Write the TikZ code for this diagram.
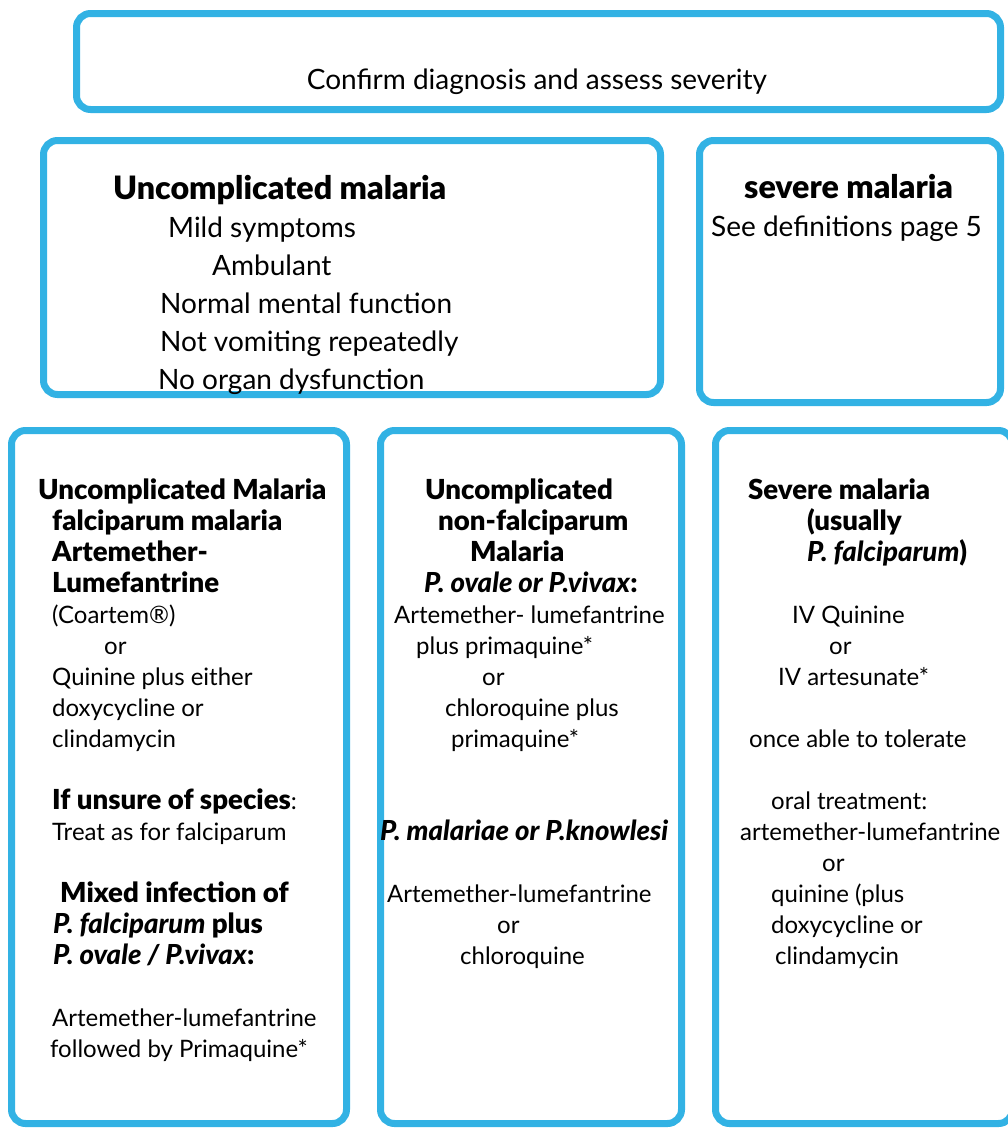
\documentclass[tikz,border=0pt]{standalone}
\usepackage{fontspec}
\setmainfont{Lato}[BoldFont={Lato Black}, BoldItalicFont={Lato Black Italic},
  BoldFeatures={Scale=1.15}, BoldItalicFeatures={Scale=1.15}]
\usetikzlibrary{positioning}
\definecolor{mlblue}{RGB}{50,178,228}
\tikzset{
  panel/.style={rectangle, draw=mlblue, line width=7pt, rounded corners=14pt,
    inner sep=0pt, anchor=north west},
  bigtxt/.style={font=\fontsize{28pt}{38pt}\selectfont, align=left,
    inner sep=0pt, anchor=base west},
  smalltxt/.style={font=\fontsize{24pt}{31pt}\selectfont, align=left,
    inner sep=0pt, anchor=base west}
}
\begin{document}
\begin{tikzpicture}[x=1pt, y=-1pt]
  \useasboundingbox (0,0) rectangle (1008,1128);

  % Panels
  \node[panel, minimum width=924pt, minimum height=96pt] (diag) at (73,10) {};
  \node[panel, minimum width=617pt, minimum height=254pt] (uncomp) at (40,137) {};
  \node[panel, minimum width=301pt, minimum height=262pt] (severe) at (696,137) {};
  \node[panel, minimum width=335pt, minimum height=693pt] (falc) at (8,427) {};
  \node[panel, minimum width=301pt, minimum height=693pt] (nonfalc) at (377,427) {};
  \node[panel, minimum width=297pt, minimum height=693pt] (sevtreat) at (712,427) {};

  % Top row
  \node[font=\fontsize{28pt}{38pt}\selectfont, inner sep=0pt, anchor=base] (diagtx) at (537,89)
    {Confirm diagnosis and assess severity};

  % Second row (base = last line)
  \node[bigtxt] (uncomptx) at (113,389) {%
    \textbf{Uncomplicated malaria}\\
    \hspace*{55pt}Mild symptoms\\
    \hspace*{99pt}Ambulant\\
    \hspace*{47pt}Normal mental function\\
    \hspace*{47pt}Not vomiting repeatedly\\
    \hspace*{45pt}No organ dysfunction};
  \node[bigtxt] (severetx) at (711,236) {%
    \hspace*{33pt}\textbf{severe malaria}\\
    See definitions page 5};

  % Treatment row (base = last line)
  \node[smalltxt] (falctx) at (38,1057) {%
    \textbf{Uncomplicated Malaria}\\
    \hspace*{14pt}\textbf{falciparum malaria}\\
    \hspace*{14pt}\textbf{Artemether-}\\
    \hspace*{14pt}\textbf{Lumefantrine}\\
    \hspace*{14pt}(Coartem®)\\
    \hspace*{66pt}or\\
    \hspace*{14pt}Quinine plus either\\
    \hspace*{14pt}doxycycline or\\
    \hspace*{14pt}clindamycin\\[31pt]
    \hspace*{14pt}\textbf{If unsure of species}:\\
    \hspace*{14pt}Treat as for falciparum\\[31pt]
    \hspace*{22pt}\textbf{Mixed infection of}\\
    \hspace*{15pt}\textbf{\textit{P. falciparum} plus}\\
    \hspace*{15pt}\textbf{\textit{P. ovale / P.vivax}:}\\[31pt]
    \hspace*{14pt}Artemether-lumefantrine\\
    \hspace*{12pt}followed by Primaquine*};
  \node[smalltxt] (nonfalctx) at (380,964) {%
    \hspace*{45pt}\textbf{Uncomplicated}\\
    \hspace*{58pt}\textbf{non-falciparum}\\
    \hspace*{90pt}\textbf{Malaria}\\
    \hspace*{44pt}\textbf{\textit{P. ovale or P.vivax}:}\\
    \hspace*{14pt}Artemether- lumefantrine\\
    \hspace*{36pt}plus primaquine*\\
    \hspace*{102pt}or\\
    \hspace*{65pt}chloroquine plus\\
    \hspace*{71pt}primaquine*\\[62pt]
    \textbf{\textit{P. malariae or P.knowlesi}}\\[31pt]
    \hspace*{7pt}Artemether-lumefantrine\\
    \hspace*{117pt}or\\
    \hspace*{80pt}chloroquine};
  \node[smalltxt] (sevtreattx) at (740,964) {%
    \hspace*{8pt}\textbf{Severe malaria}\\
    \hspace*{67pt}\textbf{(usually}\\
    \hspace*{67pt}\textbf{\textit{P. falciparum})}\\[31pt]
    \hspace*{52pt}IV Quinine\\
    \hspace*{89pt}or\\
    \hspace*{38pt}IV artesunate*\\[31pt]
    \hspace*{9pt}once able to tolerate\\[31pt]
    \hspace*{31pt}oral treatment:\\
    artemether-lumefantrine\\
    \hspace*{82pt}or\\
    \hspace*{31pt}quinine (plus\\
    \hspace*{31pt}doxycycline or\\
    \hspace*{35pt}clindamycin};

\end{tikzpicture}
\end{document}
